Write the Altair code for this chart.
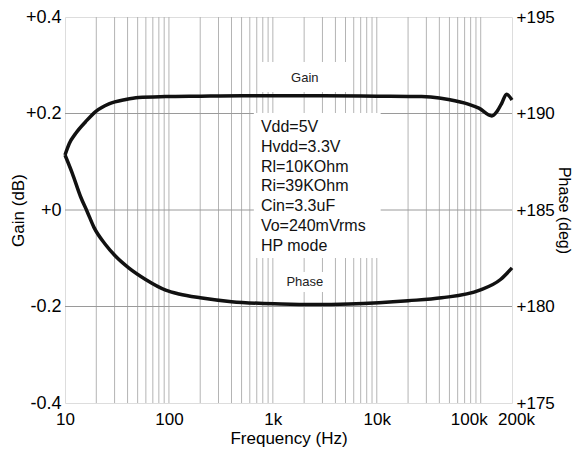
import altair as alt
import pandas as pd

# ---- data ----
gain_freq = [10, 11, 12.7, 15.8, 19.7, 26.5, 38.4, 51, 93, 194, 500, 1000, 3000, 10000,
             27000, 33000, 49000, 77000, 96000, 128000, 143000, 160000, 177000, 200000]
gain_db = [0.114, 0.138, 0.159, 0.183, 0.204, 0.220, 0.229, 0.233, 0.235, 0.236, 0.237, 0.237,
           0.237, 0.236, 0.235, 0.234, 0.229, 0.219, 0.211, 0.195, 0.204, 0.222, 0.240, 0.228]

phase_freq = [10, 11.76, 14.1, 16.4, 19, 24.6, 30.7, 41, 59.6, 93, 125, 200, 400, 1200, 2500,
              5400, 10500, 20000, 42000, 98000, 155000, 200000]
phase_deg = [187.85, 186.9, 185.7, 184.9, 184.1, 183.2, 182.6, 182.0, 181.4, 180.85, 180.65,
             180.45, 180.25, 180.13, 180.1, 180.13, 180.2, 180.3, 180.45, 180.85, 181.4, 182.0]

grid_freq = [20, 30, 40, 50, 60, 70, 80, 90, 100,
             200, 300, 400, 500, 600, 700, 800, 900, 1000,
             2000, 3000, 4000, 5000, 6000, 7000, 8000, 9000, 10000,
             20000, 30000, 40000, 50000, 60000, 70000, 80000, 90000, 100000]
hgrid_gain = [-0.2, 0.0, 0.2]

x_ticks = [10, 100, 1000, 10000, 100000, 200000]
gain_ticks = [-0.4, -0.2, 0.0, 0.2, 0.4]
phase_ticks = [175, 180, 185, 190, 195]

notes = ["Vdd=5V", "Hvdd=3.3V", "Rl=10KOhm", "Ri=39KOhm", "Cin=3.3uF", "Vo=240mVrms", "HP mode"]

# annotation placements (in data coordinates)
box_f1 = [656, 767, 1222]
box_f2 = [10900, 5620, 3454]
box_g1 = [0.201, 0.3067, -0.1285]
box_g2 = [-0.0995, 0.2446, -0.170]

label_text = ["Gain", "Phase"]
label_f = [2032, 2032]
label_g = [0.2736, -0.149]
notes_f = [767]
notes_g = [0.172]

FONT = "Liberation Sans"

gain_df = pd.DataFrame({"f": gain_freq, "v": gain_db})
phase_df = pd.DataFrame({"f": phase_freq, "v": phase_deg})
vgrid_df = pd.DataFrame({"f": grid_freq})
hgrid_df = pd.DataFrame({"g": hgrid_gain})
box_df = pd.DataFrame({"f1": box_f1, "f2": box_f2, "g1": box_g1, "g2": box_g2})
lab_df = pd.DataFrame({"t": label_text, "f": label_f, "g": label_g})
notes_df = pd.DataFrame({"f": notes_f, "g": notes_g, "t": [notes]})

xscale = alt.Scale(type="log", domain=[10, 200000], nice=False)
gscale = alt.Scale(domain=[-0.4, 0.4], nice=False, zero=False)
pscale = alt.Scale(domain=[175, 195], nice=False, zero=False)

xaxis = alt.Axis(
    values=x_ticks,
    labelExpr="datum.value >= 1000 ? (datum.value / 1000) + 'k' : '' + datum.value",
    grid=False, ticks=False, domain=False,
    labelFont=FONT, labelFontSize=17, labelColor="black", labelPadding=8,
    labelOffset={"condition": [{"test": "datum.value == 100000", "value": -12},
                               {"test": "datum.value == 200000", "value": 4}],
                 "value": 0},
    labelFlush=False, labelOverlap=False,
    title="Frequency (Hz)", titleFont=FONT, titleFontSize=17, titleFontWeight="normal",
    titleColor="black", titleY=27, titleBaseline="top",
)
gaxis = alt.Axis(
    values=gain_ticks,
    labelExpr="datum.value == 0 ? '+0' : (datum.value > 0 ? '+' : '-') + format(abs(datum.value), '.1f')",
    grid=False, ticks=False, domain=False,
    labelFont=FONT, labelFontSize=18, labelColor="black", labelPadding=4,
    labelFlush=False, labelOverlap=False,
    title="Gain (dB)", titleFont=FONT, titleFontSize=17, titleFontWeight="normal",
    titleColor="black", titleX=-38,
)
paxis = alt.Axis(
    values=phase_ticks, orient="right",
    labelExpr="'+' + datum.value",
    grid=False, ticks=False, domain=False,
    labelFont=FONT, labelFontSize=17, labelColor="black", labelPadding=4,
    labelFlush=False, labelOverlap=False,
    title="Phase (deg)", titleFont=FONT, titleFontSize=16, titleFontWeight="normal",
    titleColor="black", titleX=43,
)

X = alt.X("f:Q", scale=xscale, axis=xaxis)

vgrid = alt.Chart(vgrid_df).mark_rule(color="#b4b4b4", strokeWidth=1).encode(x=X)
hgrid = alt.Chart(hgrid_df).mark_rule(color="#9a9a9a", strokeWidth=1).encode(
    y=alt.Y("g:Q", scale=gscale, axis=gaxis)
)
boxes = alt.Chart(box_df).mark_rect(fill="white").encode(
    x=alt.X("f1:Q", scale=xscale, axis=xaxis), x2="f2:Q",
    y=alt.Y("g1:Q", scale=gscale, axis=gaxis), y2="g2:Q",
)
gain_line = alt.Chart(gain_df).mark_line(
    color="#111111", strokeWidth=3.5, interpolate="monotone", clip=False
).encode(x=X, y=alt.Y("v:Q", scale=gscale, axis=gaxis))
labels = alt.Chart(lab_df).mark_text(font=FONT, fontSize=13, color="#222222").encode(
    x=X, y=alt.Y("g:Q", scale=gscale, axis=gaxis), text="t:N"
)
notes_txt = alt.Chart(notes_df).mark_text(
    font=FONT, fontSize=16, color="#111111", align="left", baseline="middle", lineHeight=19.8
).encode(x=X, y=alt.Y("g:Q", scale=gscale, axis=gaxis), text="t")

left = alt.layer(vgrid, hgrid, boxes, gain_line, labels, notes_txt)

phase_line = alt.Chart(phase_df).mark_line(
    color="#111111", strokeWidth=3.5, interpolate="monotone", clip=False
).encode(x=X, y=alt.Y("v:Q", scale=pscale, axis=paxis))

chart = alt.layer(left, phase_line).resolve_scale(y="independent").properties(
    width=447, height=386,
    autosize=alt.AutoSizeParams(type="none"),
    padding={"left": 57, "top": 9, "right": 62, "bottom": 44},
).configure_view(stroke="#111111", strokeWidth=2.2).configure(background="white")

chart.save("out.html", embed_options={"renderer": "svg", "actions": False})
